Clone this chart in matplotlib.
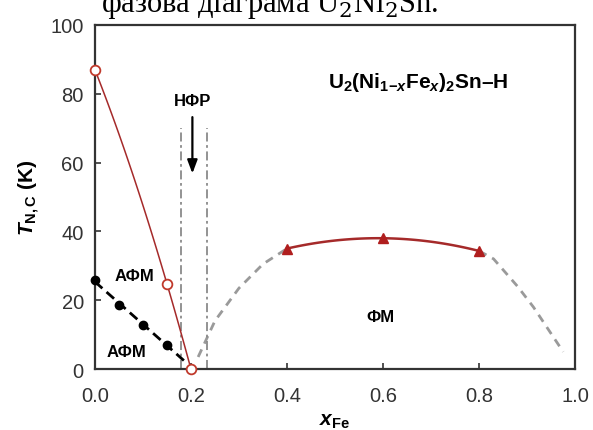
import matplotlib.pyplot as plt
import numpy as np

plt.rcParams["font.family"] = ["Liberation Sans", "DejaVu Sans"]
plt.rcParams["mathtext.fontset"] = "custom"
plt.rcParams["mathtext.rm"] = "Liberation Sans:bold"
plt.rcParams["mathtext.it"] = "Liberation Sans:italic:bold"
plt.rcParams["mathtext.bf"] = "Liberation Sans:bold"

# Néel temperature of the first AFM phase (open red circles)
afm1_x = [0.0, 0.15, 0.2]
afm1_t = [87.0, 24.8, 0.0]

# second AFM transition (black dots)
afm2_x = [0.0, 0.05, 0.1, 0.15]
afm2_t = [25.8, 18.6, 12.9, 7.1]

# Curie temperature of the FM phase (red triangles)
fm_x = [0.4, 0.6, 0.8]
fm_t = [35.0, 38.0, 34.3]

# dashed guide lines for the FM boundary outside the measured range
guide_left_x = [0.215, 0.25, 0.3, 0.35, 0.4]
guide_left_t = [3.5, 14.0, 23.5, 30.5, 35.0]
guide_right_x = [0.8, 0.83, 0.88, 0.913, 0.975]
guide_right_t = [34.3, 32.0, 24.0, 18.0, 5.0]

# borders of the non-FM region
nfr_x = [0.1786, 0.233]
nfr_top = 70

fig = plt.figure(figsize=(5.93, 4.31), dpi=100)
ax = fig.add_axes([0.160, 0.1415, 0.810, 0.7985])

red = "#c0392b"
dark_red = "#a52a2a"
grey = "#9a9a9a"

# smooth guide curves through the measured points
xs = np.linspace(afm1_x[0], afm1_x[-1], 100)
ax.plot(xs, np.polyval(np.polyfit(afm1_x, afm1_t, 2), xs), color=dark_red, lw=1.1, zorder=2)

xs = np.linspace(0, 0.186, 50)
ax.plot(xs, np.polyval(np.polyfit(afm2_x, afm2_t, 1), xs), color="black", lw=2,
        dashes=(3.6, 2), zorder=2)

xs = np.linspace(fm_x[0], fm_x[-1], 100)
ax.plot(xs, np.polyval(np.polyfit(fm_x, fm_t, 2), xs), color=dark_red, lw=1.8, zorder=2)

ax.plot(guide_left_x, guide_left_t, color=grey, lw=2, dashes=(3, 2.3), zorder=1)
ax.plot(guide_right_x, guide_right_t, color=grey, lw=2, dashes=(3, 2.3), zorder=1)

for xv in nfr_x:
    ax.plot([xv, xv], [0, nfr_top], color="#8a8a8a", lw=1.3, dashes=(5, 2, 1.5, 2), zorder=1)

ax.plot(afm1_x, afm1_t, "o", ms=7, mfc="white", mec=red, mew=1.3, ls="none", zorder=4,
        clip_on=False)
ax.plot(afm2_x, afm2_t, "o", ms=6, color="black", ls="none", zorder=4, clip_on=False)
ax.plot(fm_x, fm_t, "^", ms=7, color="#b01e1e", ls="none", zorder=4)

ax.annotate("", xy=(0.203, 56), xytext=(0.203, 74),
            arrowprops=dict(arrowstyle="-|>,head_length=0.8,head_width=0.3", color="black", lw=1.6))
ax.text(0.204, 78, "НФР", ha="center", va="center", fontsize=12, fontweight="bold")
ax.text(0.082, 27.2, "АФМ", ha="center", va="center", fontsize=12, fontweight="bold")
ax.text(0.066, 5.2, "АФМ", ha="center", va="center", fontsize=12, fontweight="bold")
ax.text(0.594, 15.2, "ФМ", ha="center", va="center", fontsize=12, fontweight="bold")
ax.text(0.673, 83.5, r"U$_2$(Ni$_{1\mathrm{-}x}$Fe$_x$)$_2$Sn–H", ha="center", va="center",
        fontsize=15, fontweight="bold")

ax.set_xlim(0, 1.0)
ax.set_ylim(0, 100)
ax.set_xticks(np.arange(0, 1.01, 0.2))
ax.set_yticks(np.arange(0, 101, 20))
ax.xaxis.set_major_formatter(plt.FormatStrFormatter("%.1f"))
ax.tick_params(direction="in", length=4, width=1.2, labelsize=14.5, colors="#333333")
ax.tick_params(axis="x", pad=12.5)
ax.tick_params(axis="y", pad=8)

for sp in ax.spines.values():
    sp.set_linewidth(1.6)
    sp.set_color("#333333")

ax.set_xlabel(r"$x_{\mathrm{Fe}}$", fontsize=15, labelpad=4)
ax.set_ylabel(r"$T_{\mathrm{N,C}}$ (K)", fontsize=15, fontweight="bold", labelpad=6)

fig.text(0.455, 0.9715, "фазова діаграма U$_2$Ni$_2$Sn.", ha="center", va="baseline",
         fontsize=22, family="Liberation Serif", math_fontfamily="dejavuserif")

fig.savefig("out.png", dpi=100, facecolor="white")
